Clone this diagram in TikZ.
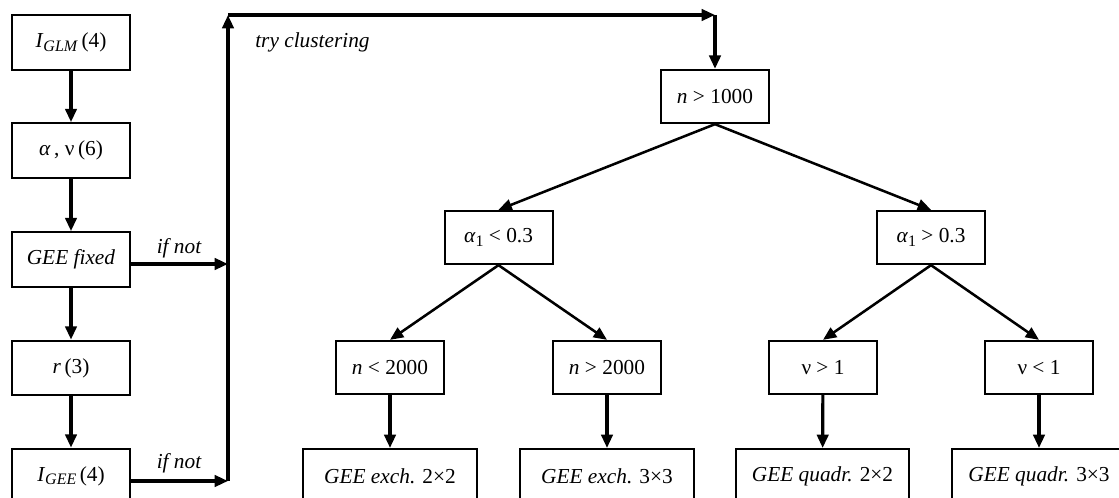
\documentclass[tikz,border=0pt]{standalone}
\usepackage{fontspec}
\setmainfont{Liberation Serif}
\usetikzlibrary{arrows.meta}
\tikzset{
  box/.style={draw, line width=1.5pt, inner sep=0pt, font=\fontsize{16}{19}\selectfont},
  lbox/.style={box, minimum width=88.5pt, minimum height=41pt},
  tbox/.style={box, minimum width=81pt, minimum height=40pt},
  wbox/.style={box, minimum width=130pt, minimum height=40.5pt},
  arr/.style={line width=2.4pt, -{Triangle[length=10pt,width=8.5pt]}},
  darr/.style={line width=1.9pt, -{Triangle[length=10pt,width=8.5pt]}},
  lbl/.style={font=\fontsize{16}{19}\selectfont\itshape, inner sep=0pt},
}
\newcommand{\myit}[1]{\textit{#1}}
\newcommand{\mysub}[1]{\raisebox{-0.35ex}{\fontsize{12}{12}\selectfont #1}}
\begin{document}
\begin{tikzpicture}[x=0.75pt,y=-0.75pt]
\useasboundingbox (0,0) rectangle (1119,498);
\clip (0,0) rectangle (1119,498);
% left column
\node[lbox] (glm) at (71,42.5) {\myit{I}\mysub{\myit{GLM}}\,(4)};
\node[lbox] (av) at (71,150.5) {\myit{α}\,, ν\,(6)};
\node[lbox] (fix) at (71,259.5) {\myit{GEE fixed}};
\node[lbox] (r) at (71,368) {\myit{r}\,(3)};
\node[lbox] (gee) at (71,476) {\myit{I}\mysub{\myit{GEE}}\,(4)};
\draw[arr] (glm) -- (av);
\draw[arr] (av) -- (fix);
\draw[arr] (fix) -- (r);
\draw[arr] (r) -- (gee);
% loop
\coordinate (c1) at (228,481);
\coordinate (c0) at (228,264);
\coordinate (c2) at (228,15);
\coordinate (c3) at (715,15);
\coordinate (g1) at (130,481);
\coordinate (f1) at (130,264);
\draw[arr] (g1) -- (c1);
\draw[arr] (f1) -- (c0);
\draw[arr] (c1) -- (c2);
\draw[arr] (c2) -- (c3);
\node[lbl] (if1) at (179,248) {if not};
\node[lbl] (if2) at (179,463) {if not};
\node[lbl, anchor=west] (try) at (255,42) {try clustering};
% tree
\node[tbox] (n1000) at (715,96.5) {\myit{n} > 1000};
\draw[arr] (c3) -- (n1000.north);
\node[tbox] (alo) at (498.5,237.5) {\myit{α}\mysub{1} < 0.3};
\node[tbox] (ahi) at (931,237.5) {\myit{α}\mysub{1} > 0.3};
\node[tbox] (nlo) at (390,367.5) {\myit{n} < 2000};
\node[tbox] (nhi) at (607,367.5) {\myit{n} > 2000};
\node[tbox] (vhi) at (823,367.5) {ν > 1};
\node[tbox] (vlo) at (1039,367.5) {ν < 1};
\node[wbox] (e2) at (390,476) {\myit{GEE exch.} 2×2};
\node[wbox] (e3) at (607,476) {\myit{GEE exch.} 3×3};
\node[wbox] (q2) at (822.5,476) {\myit{GEE quadr.} 2×2};
\node[wbox] (q3) at (1039,476) {\myit{GEE quadr.} 3×3};
\draw[darr] (n1000.south) -- (alo.north);
\draw[darr] (n1000.south) -- (ahi.north);
\draw[darr] (alo.south) -- (nlo.north);
\draw[darr] (alo.south) -- (nhi.north);
\draw[darr] (ahi.south) -- (vhi.north);
\draw[darr] (ahi.south) -- (vlo.north);
\draw[arr] (nlo) -- (e2);
\draw[arr] (nhi) -- (e3);
\draw[arr] (vhi) -- (q2);
\draw[arr] (vlo) -- (q3);
\end{tikzpicture}
\end{document}
